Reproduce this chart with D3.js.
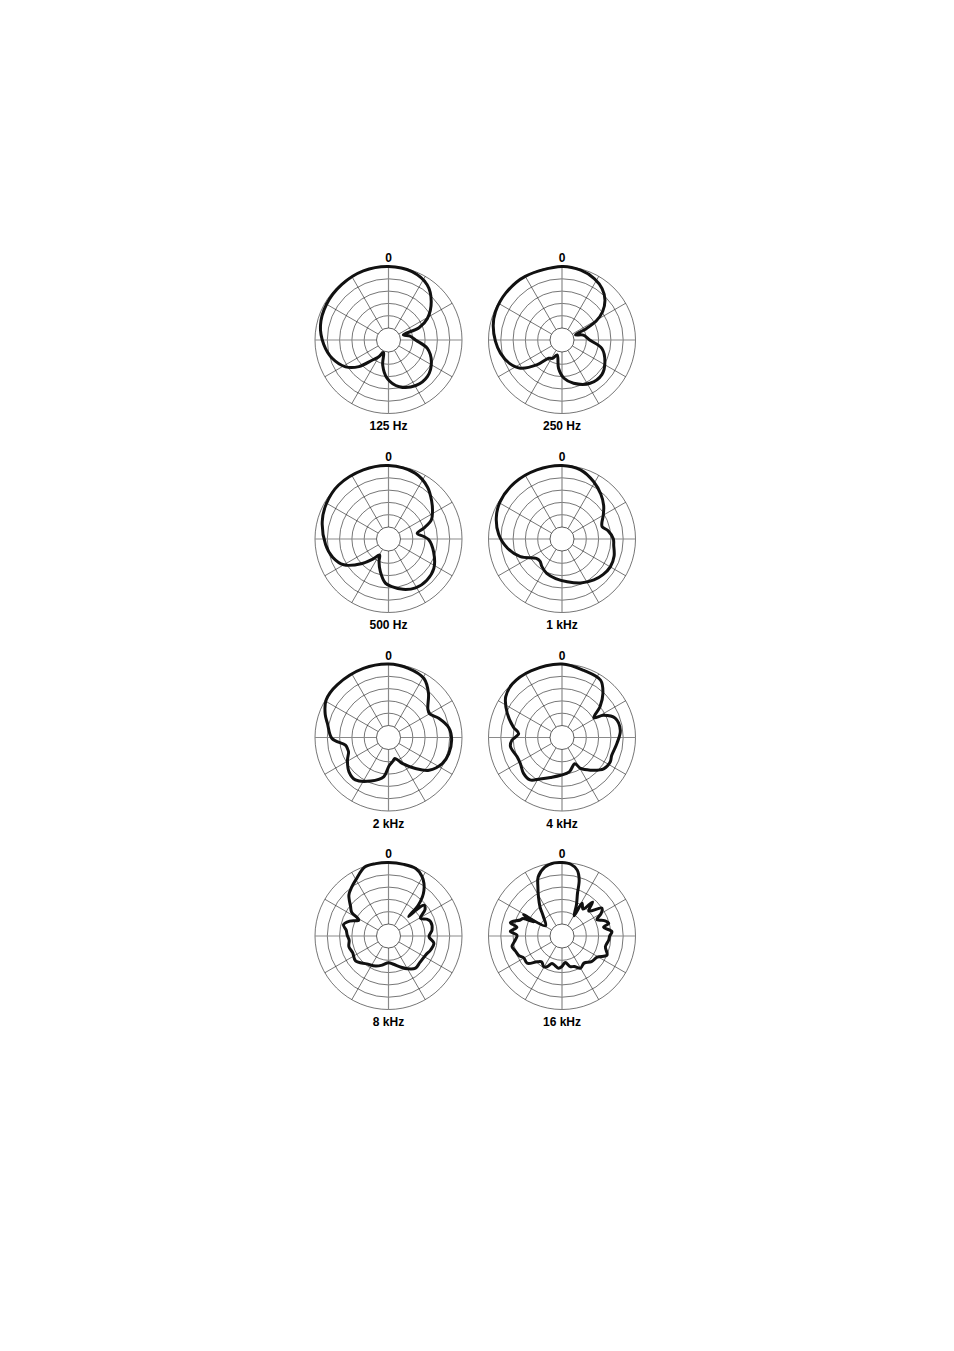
<!DOCTYPE html>
<html>
<head>
<title>Polar patterns</title>
<meta charset="UTF-8">
<style type="text/css">
body { margin: 0; background: #fff; }
text { font-family: "Liberation Sans", Arial, sans-serif; font-weight: bold; font-size: 12px; fill: #000; }
.ring { fill: none; stroke: #1a1a1a; stroke-width: 0.6px; }
.spoke { stroke: #1a1a1a; stroke-width: 0.6px; }
.axis { stroke: #8a8a8a; stroke-width: 1.2px; }
.resp { fill: none; stroke: #111; stroke-width: 3px; stroke-linejoin: round; }
</style>
<script src="https://d3js.org/d3.v7.min.js"></script>
</head>
<body>
<script type="text/javascript">
// frequency labels, in reading order (left-right, top-bottom)
var freqLabels = ["125 Hz", "250 Hz", "500 Hz", "1 kHz", "2 kHz", "4 kHz", "8 kHz", "16 kHz"];
var topLabel = "0";

// rings in dB (inner circle -25, outer 0)
var ringLevels = [-25, -20, -15, -10, -5, 0];
var spokeAngles = [0, 30, 60, 90, 120, 150, 180, 210, 240, 270, 300, 330];

// [angle deg clockwise from top, level dB], in order along the curve
var resp125 = [[0,0],[19,-0.5],[35,-2.5],[48,-6.5],[61,-11.8],[68,-16.5],[71,-23.5],[80,-21],[90,-18.9],[102,-13.8],[117,-10.3],[133,-8.2],[149,-8.3],[167,-10.4],[182,-14.3],[193,-19.4],[202,-24.5],[210,-22],[219,-19.3],[228,-13.7],[238,-9.3],[252,-5.8],[266,-3.5],[282,-1.6],[300,-0.8],[320,-0.4],[340,0]];
var resp250 = [[0,0],[15,-0.5],[28,-1.7],[38,-3.4],[47,-6],[55,-9.7],[61,-14],[65,-19],[69,-24],[77,-21],[90,-18.6],[102,-13.3],[117,-10.3],[131,-8.4],[147,-8.9],[165,-11.7],[177,-14.3],[187,-18.3],[198,-23.5],[207,-21.5],[216,-20.7],[225,-15.7],[236,-9.4],[246,-6.5],[258,-4.3],[269,-2.8],[282,-1.3],[293,-0.5],[310,-0.1],[330,0]];
var resp500 = [[0,0],[22,-1],[37,-3.5],[49,-6.6],[58,-8.8],[66,-10.8],[73,-15],[79,-18],[86,-15.5],[91,-13.5],[106,-10.8],[123,-7.9],[137,-7],[151,-7.2],[164,-8.6],[176,-10.5],[184,-11.9],[194,-16.2],[203,-20],[209,-22.4],[218,-19.5],[227,-15.3],[240,-8.9],[252,-6],[265,-4.2],[285,-2],[300,-0.8],[317,0],[340,0]];
var resp1k = [[0,0],[15,-0.8],[29,-3.3],[41,-5.8],[51,-8.1],[60,-10.5],[68,-12.4],[73,-12.8],[80,-10.8],[90,-9],[97,-8.7],[108,-7.6],[120,-7.2],[131,-7.8],[142,-8.8],[157,-10.5],[173,-12.4],[189,-13.6],[204,-14.6],[216,-16],[225,-17.2],[233,-16.8],[247,-11.5],[260,-7.5],[274,-4.1],[288,-1.8],[301,-0.5],[320,0],[340,0]];
var resp2k = [[0,0],[16,-0.6],[31,-1.9],[42,-5.6],[54,-10.1],[60,-10.6],[69,-8],[81,-5],[92,-4.2],[105,-4.5],[116,-5.6],[129,-8.7],[139,-13.2],[152,-18],[163,-21],[170,-20],[179,-18.3],[187,-13.8],[202,-10.8],[218,-8],[229,-8.6],[241,-10.8],[250,-12.6],[254,-12.6],[260,-12.1],[269,-6.9],[283,-4.4],[290,-2.5],[301,-0.3],[316,0],[340,0]];
var resp4k = [[0,0],[18,-1.2],[34,-1.8],[43,-5.5],[51,-10],[58,-14.6],[62,-10.7],[70,-6.9],[83,-6],[96,-7.4],[110,-8.4],[117,-7.9],[127,-8.7],[139,-12.3],[149,-15.2],[154,-18],[168,-15.6],[182,-14.5],[196,-13],[208,-10.8],[217,-8.3],[227,-8.5],[238,-9.9],[247,-10],[260,-8.6],[267,-9.5],[275,-12.2],[282,-9.7],[294,-5.5],[306,-1.6],[317,-0.2],[335,0]];
var resp8k = [[0,0],[12,-0.1],[22,-0.3],[29,-2],[34,-4.1],[38,-6.5],[41,-8.9],[44,-12.5],[46,-18.5],[47,-14],[49,-10.8],[54,-11.5],[61,-15],[66,-13],[71,-11.8],[82,-12],[91,-13.4],[99,-11.2],[108,-11.8],[117,-12.9],[130,-13.2],[140,-12.8],[150,-14.5],[158,-16.2],[170,-18.2],[180,-19],[192,-17.8],[203,-16.6],[218,-15.5],[233,-13.1],[245,-13.8],[255,-13.2],[264,-13.8],[271,-13.1],[278,-12.5],[284,-11],[291,-13],[298,-16.2],[303,-12],[308,-10.3],[316,-6.7],[323,-5],[330,-3.4],[341,-0.2],[350,0]];
var resp16k = [[0,0],[7,-0.5],[13,-2.4],[17,-6],[20,-11.5],[25,-16],[31,-20.3],[31.5,-14.3],[38,-16],[42,-11.3],[47,-15],[55,-10.1],[60,-11.5],[65,-14.2],[70,-11.5],[75,-10.2],[78,-12.6],[85,-9.5],[90,-10.5],[95,-10.8],[104,-11.7],[113,-10],[121,-13.2],[131,-14],[141,-15.7],[150,-14.8],[158,-16.5],[165,-17],[173,-19],[180,-17.5],[186,-16.7],[193,-17.5],[200,-18],[206,-16],[211,-15.4],[218,-16.5],[224,-15.3],[232,-11.9],[240,-12],[246,-10.6],[252,-10],[258,-9.1],[265,-10.8],[271,-11.6],[275,-8.8],[281,-11.2],[284.5,-8.2],[291,-11.7],[294,-12.5],[296.5,-17],[299,-12],[302,-22],[316,-19],[323,-15],[329,-11.3],[334,-7.5],[338,-4],[346,-1],[354,0]];

var responses = [resp125, resp250, resp500, resp1k, resp2k, resp4k, resp8k, resp16k];

var width = 954, height = 1351;
var colX = [388.5, 562];
var rowY = [340, 539, 737.5, 936];

var r = d3.scaleLinear().domain([-25, 0]).range([12, 73.5]);
var rad = function(deg) { return deg * Math.PI / 180; };

var svg = d3.select("body").append("svg")
    .attr("width", width)
    .attr("height", height);

svg.append("rect").attr("width", width).attr("height", height).attr("fill", "#fff");

var line = d3.lineRadial()
    .angle(function(d) { return rad(d[0]); })
    .radius(function(d) { return r(Math.max(-25, d[1])); })
    .curve(d3.curveCatmullRomClosed.alpha(0.5));

responses.forEach(function(data, i) {
    var cx = colX[i % 2], cy = rowY[Math.floor(i / 2)];
    var g = svg.append("g").attr("transform", "translate(" + cx + "," + cy + ")");

    // rings
    g.selectAll(".ring").data(ringLevels.slice(1)).enter()
        .append("circle").attr("class", "ring")
        .attr("r", function(d) { return r(d); });

    // spokes, main axes drawn grey
    g.selectAll(".sp").data(spokeAngles).enter()
        .append("line")
        .attr("class", function(d) { return d % 90 === 0 ? "axis" : "spoke"; })
        .attr("x1", function(d) { return r(-25) * Math.sin(rad(d)); })
        .attr("y1", function(d) { return -r(-25) * Math.cos(rad(d)); })
        .attr("x2", function(d) { return r(0) * Math.sin(rad(d)); })
        .attr("y2", function(d) { return -r(0) * Math.cos(rad(d)); });

    g.append("path").attr("class", "resp").attr("d", line(data));

    // inner circle
    g.append("circle").attr("r", r(-25))
        .attr("fill", "#fff").attr("stroke", "#1a1a1a").attr("stroke-width", 0.7);

    g.append("text").attr("x", 0).attr("y", -r(0) - 4.5)
        .style("text-anchor", "middle").text(topLabel);

    g.append("text").attr("x", 0).attr("y", r(0) + 16.5)
        .style("text-anchor", "middle").text(freqLabels[i]);
});
</script>
</body>
</html>
